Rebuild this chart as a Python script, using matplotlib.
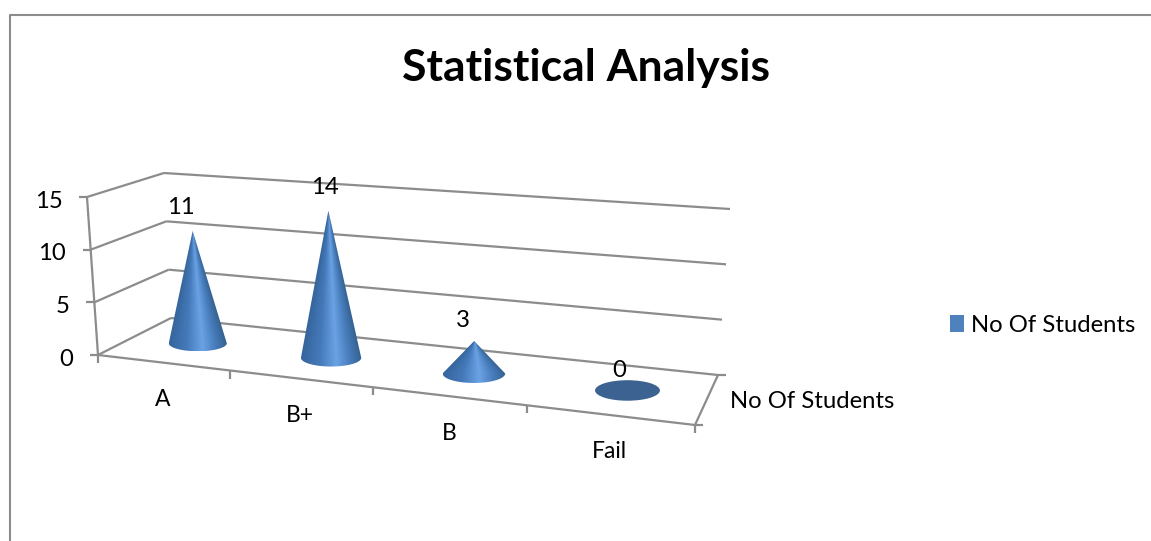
import numpy as np
import matplotlib
matplotlib.use("Agg")
import matplotlib.pyplot as plt
from matplotlib.colors import LinearSegmentedColormap
from matplotlib.patches import Patch, Polygon, Ellipse

categories = ["A", "B+", "B", "Fail"]
students = [11, 14, 3, 0]
value_ticks = [0, 5, 10, 15]
series_name = "No Of Students"
title = "Statistical Analysis"

plt.rcParams['font.family'] = ['Lato', 'DejaVu Sans']
GREY = "#8c8c8c"

# pixel corners of the fake 3d box: (floor, top at value 15)
front_left = np.array([[98, 355], [87, 197]], dtype=float)
front_right = np.array([[695, 425], [700, 250]], dtype=float)
back_left = np.array([[171, 318], [164, 173]], dtype=float)
back_right = np.array([[718, 375], [730, 209]], dtype=float)


def project(x, v, d):
    """category position x (0-4), value v, depth d (0-1) to pixel position"""
    u = x / len(categories)
    t = u / (u + 1.17 * (1 - u))  # perspective along the category axis
    h = v / value_ticks[-1]
    fl = front_left[0] + h * (front_left[1] - front_left[0])
    fr = front_right[0] + h * (front_right[1] - front_right[0])
    bl = back_left[0] + h * (back_left[1] - back_left[0])
    br = back_right[0] + h * (back_right[1] - back_right[0])
    front = fl + t * (fr - fl)
    back = bl + t * (br - bl)
    return front + d * (back - front)


def line(ax, a, b):
    ax.plot([a[0], b[0]], [a[1], b[1]], color=GREY, lw=1.6, solid_capstyle="butt")


fig = plt.figure(figsize=(11.51, 5.41), dpi=100)
ax = fig.add_axes([0, 0, 1, 1])

# chart border
ax.plot([10, 10, 1151], [541, 15, 15], color=GREY, lw=1.5)

# walls and gridlines
for v in value_ticks:
    a = project(0, v, 0)
    b = project(0, v, 1)
    c = project(len(categories), v, 1)
    line(ax, a, b)
    line(ax, b, c)
    line(ax, a, a + np.array([-8, 0]))
    ax.text(a[0] - 24.5, a[1] + 4, str(v), ha="right", va="center", fontsize=17.2, color="black")
line(ax, project(0, 0, 0), project(0, value_ticks[-1], 0))

# floor edges and ticks
line(ax, project(0, 0, 0), project(len(categories), 0, 0))
line(ax, project(len(categories), 0, 0), project(len(categories), 0, 1))
for i in range(len(categories) + 1):
    p = project(i, 0, 0)
    line(ax, p, p + np.array([0, 8]))
p = project(len(categories), 0, 0)
line(ax, p, p + np.array([8, 0]))
p = project(len(categories), 0, 1)
line(ax, p, p + np.array([8, 0]))

# cones, shading runs around the cone so the bright band narrows to the tip
shade = LinearSegmentedColormap.from_list(
    "cone", [(0, "#36659c"), (0.3, "#4479b9"), (0.58, "#6aa2e4"), (0.78, "#4a80bf"), (1, "#33608f")])
label_dx = [-12, -3, -11, -8]
label_dy = [-23, -23, -21, -20]
nudge = [-1, 1, 2, 2]
for i, value in enumerate(students):
    shift = np.array([nudge[i], 1])
    base = project(i + 0.5, 0, 0.53) + shift
    tip = project(i + 0.5, value, 0.53) + shift
    rx = 29 + 1.15 * i
    ry = 8 + 0.75 * i
    if value == 0:
        ax.add_patch(Ellipse(base, 2 * rx, 2 * ry, color="#3b6291", lw=0))
    else:
        ang = np.linspace(0, np.pi, 60)
        outline = np.column_stack([base[0] + rx * np.cos(ang), base[1] + ry * np.sin(ang)])
        outline = np.vstack([tip, outline])
        xs = np.linspace(base[0] - rx, base[0] + rx, 200)
        ys = np.linspace(tip[1], base[1] + ry, 200)
        X, Y = np.meshgrid(xs, ys)
        frac = np.clip((Y - tip[1]) / (base[1] - tip[1]), 0.01, 1)
        cx = tip[0] + (base[0] - tip[0]) * frac
        S = np.clip(0.5 + (X - cx) / (2 * rx * frac), 0, 1)
        im = ax.imshow(S, cmap=shade, aspect="auto", vmin=0, vmax=1, origin="upper",
                       extent=[xs[0], xs[-1], ys[-1], ys[0]], zorder=3)
        im.set_clip_path(Polygon(outline, transform=ax.transData))
    ax.text(tip[0] + label_dx[i], tip[1] + label_dy[i], str(value), ha="center", va="center",
            fontsize=17.2, color="black", zorder=4)
    front = project(i + 0.5, 0, 0)
    ax.text(front[0], front[1] + 37, categories[i], ha="center", va="center", fontsize=16.5, color="black")

ax.text(730, 402, series_name, ha="left", va="center", fontsize=17.2, color="black")
ax.text(586, 68, title, ha="center", va="center", fontsize=32, fontweight="bold", color="black")

ax.legend(handles=[Patch(facecolor="#4f81bd", label=series_name)], loc="center left",
          bbox_to_anchor=(945, 325), bbox_transform=ax.transData, frameon=False,
          fontsize=17.2, handlelength=0.6, handleheight=0.72, handletextpad=0.28,
          borderpad=0, borderaxespad=0.2)

ax.set_xlim(0, 1151)
ax.set_ylim(541, 0)
ax.axis("off")
fig.savefig("out.png", dpi=100)
